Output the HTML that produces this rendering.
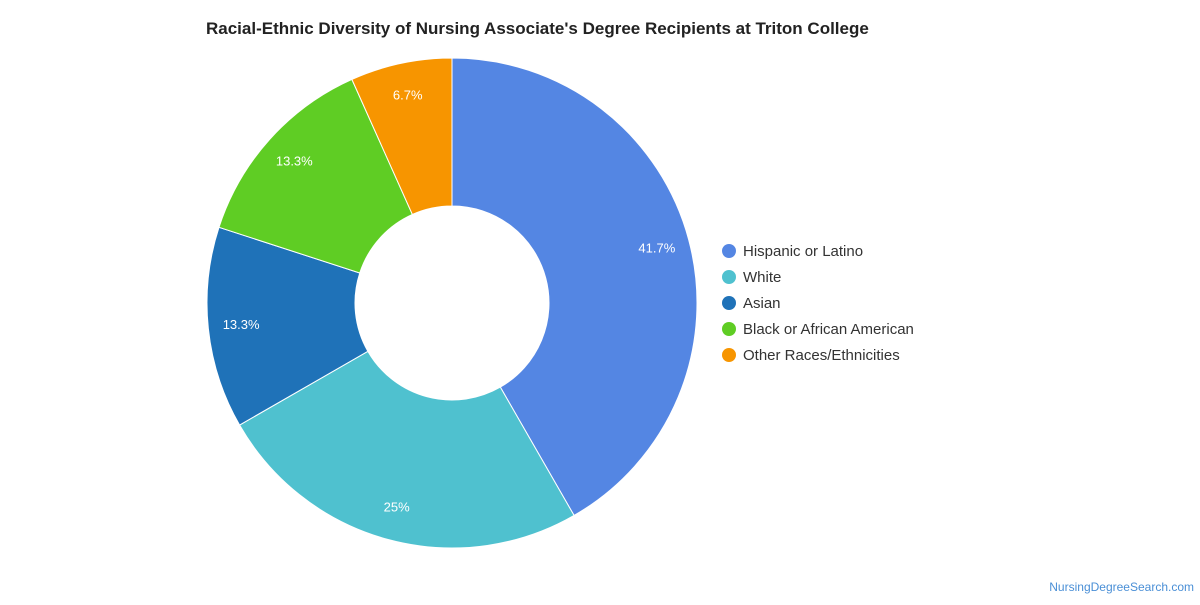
<!DOCTYPE html>
<html><head><meta charset="utf-8"><style>
body{margin:0;background:#fff;width:1200px;height:600px;overflow:hidden;font-family:"Liberation Sans",sans-serif}
</style></head><body>
<svg width="1200" height="600" xmlns="http://www.w3.org/2000/svg">
<text x="206" y="34" font-size="17" font-weight="bold" fill="#222">Racial-Ethnic Diversity of Nursing Associate's Degree Recipients at Triton College</text>
<g id="slices"></g>
<g id="legend"></g>
<text x="1194" y="591" font-size="12" fill="#4a8fd6" text-anchor="end">NursingDegreeSearch.com</text>
</svg>
<script>
const categories=["Hispanic or Latino","White","Asian","Black or African American","Other Races/Ethnicities"];
const values=[41.7,25,13.3,13.3,6.7];
const labels=["41.7%","25%","13.3%","13.3%","6.7%"];
const colors=["#5486e3","#4fc1cf","#1f72b8","#5fcd24","#f79500"];
const ns="http://www.w3.org/2000/svg";
const cx=452,cy=303,R=245,r=97,LR=212;
const total=values.reduce((a,b)=>a+b,0);
function pt(rad,a){return [cx+rad*Math.sin(a),cy-rad*Math.cos(a)];}
const g=document.getElementById('slices');
let a0=0;
values.forEach((v,i)=>{
  const a1=a0+v/total*2*Math.PI;
  const large=(a1-a0)>Math.PI?1:0;
  const p1=pt(R,a0),p2=pt(R,a1),p3=pt(r,a1),p4=pt(r,a0);
  const p=document.createElementNS(ns,'path');
  p.setAttribute('d',`M${p1}A${R},${R} 0 ${large} 1 ${p2}L${p3}A${r},${r} 0 ${large} 0 ${p4}Z`);
  p.setAttribute('fill',colors[i]);p.setAttribute('stroke','#fff');p.setAttribute('stroke-width','1');
  
  
  g.appendChild(p);
  const m=(a0+a1)/2,lp=pt(LR,m);
  const t=document.createElementNS(ns,'text');
  t.setAttribute('x',lp[0]);t.setAttribute('y',lp[1]+4);t.setAttribute('text-anchor','middle');
  t.setAttribute('font-size','13');t.setAttribute('fill','#fff');t.textContent=labels[i];
  
  
  g.appendChild(t);
  a0=a1;
});
const lg=document.getElementById('legend');
categories.forEach((c,i)=>{
  const y=251+i*26;
  const ci=document.createElementNS(ns,'circle');
  ci.setAttribute('cx',729);ci.setAttribute('cy',y);ci.setAttribute('r',7);ci.setAttribute('fill',colors[i]);
  
  
  lg.appendChild(ci);
  const t=document.createElementNS(ns,'text');
  t.setAttribute('x',743);t.setAttribute('y',y+5);t.setAttribute('font-size','15');t.setAttribute('fill','#333');
  t.textContent=c;
  
  
  lg.appendChild(t);
});
</script>
</body></html>
